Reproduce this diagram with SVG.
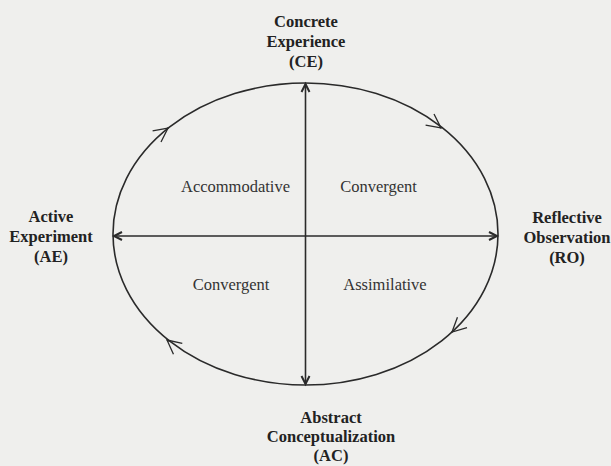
<svg xmlns="http://www.w3.org/2000/svg" width="611" height="466" viewBox="0 0 611 466">
<style>
.lbl{font-family:"Liberation Serif","Times New Roman",serif;font-weight:bold;font-size:16.5px;fill:#222;text-anchor:middle}
.q{font-family:"Liberation Serif","Times New Roman",serif;font-size:16.5px;fill:#333;text-anchor:middle}
.ln{fill:none;stroke:#2a2a2a;stroke-width:1.6}
</style>
<defs>
<marker id="cyc" markerUnits="userSpaceOnUse" markerWidth="16" markerHeight="16" refX="14" refY="7" orient="auto" overflow="visible">
<path d="M0,0 L14,7 L0,14" fill="none" stroke="#2a2a2a" stroke-width="1.3"/>
</marker>
<marker id="ax" markerUnits="userSpaceOnUse" markerWidth="10" markerHeight="10" refX="8" refY="4" orient="auto" overflow="visible">
<path d="M0,0 L8,4 L0,8" fill="none" stroke="#2a2a2a" stroke-width="2"/>
</marker>
</defs>
<rect width="611" height="466" fill="#efefed"/>
<g id="connectors">
<ellipse class="ln" cx="305.5" cy="234" rx="192.5" ry="151"/>
<line class="ln" x1="305.5" y1="234" x2="305.5" y2="84" marker-end="url(#ax)"/>
<line class="ln" x1="305.5" y1="234" x2="305.5" y2="384" marker-end="url(#ax)"/>
<line class="ln" x1="305.5" y1="236" x2="114" y2="236" marker-end="url(#ax)"/>
<line class="ln" x1="305.5" y1="236" x2="497" y2="236" marker-end="url(#ax)"/>
<path class="ln" d="M166.4,129.2 L168,128" marker-end="url(#cyc)"/>
<path class="ln" d="M439.4,126.8 L441,128" marker-end="url(#cyc)"/>
<path class="ln" d="M453.5,330.6 L452,332" marker-end="url(#cyc)"/>
<path class="ln" d="M168.6,341.3 L167,340" marker-end="url(#cyc)"/>
</g>
<g id="ce"><text class="lbl" x="306" y="27">Concrete</text><text class="lbl" x="306" y="47">Experience</text><text class="lbl" x="306" y="67">(CE)</text></g>
<g id="ae"><text class="lbl" x="51" y="222">Active</text><text class="lbl" x="51" y="242">Experiment</text><text class="lbl" x="51" y="262">(AE)</text></g>
<g id="ro"><text class="lbl" x="567" y="223">Reflective</text><text class="lbl" x="567" y="243">Observation</text><text class="lbl" x="567" y="263">(RO)</text></g>
<g id="ac"><text class="lbl" x="331" y="423">Abstract</text><text class="lbl" x="331" y="442">Conceptualization</text><text class="lbl" x="331" y="461">(AC)</text></g>
<g id="q1"><text class="q" x="235.5" y="192">Accommodative</text></g>
<g id="q2"><text class="q" x="378.5" y="192">Convergent</text></g>
<g id="q3"><text class="q" x="231" y="290">Convergent</text></g>
<g id="q4"><text class="q" x="385" y="290">Assimilative</text></g>
</svg>
